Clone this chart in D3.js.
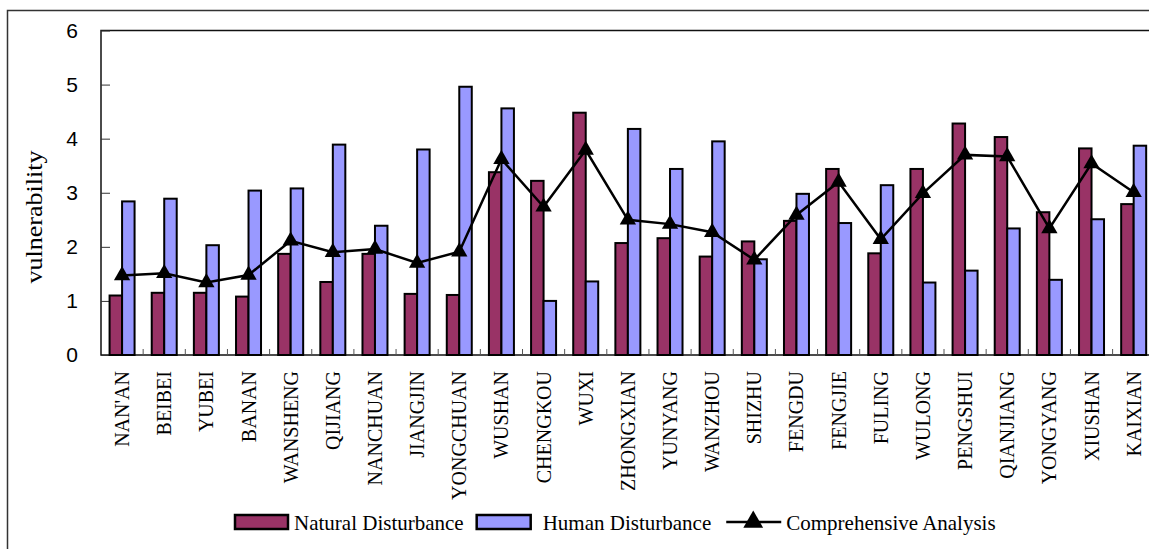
<!DOCTYPE html>
<html>
<head>
<meta charset="utf-8">
<script src="https://cdn.jsdelivr.net/npm/d3@7"></script>
<style>
  body { margin: 0; background: #fff; }
  svg { display: block; }
</style>
</head>
<body>
<svg></svg>
<script>
var width = 1149;
var height = 549;

// data
var counties = ["NAN'AN", "BEIBEI", "YUBEI", "BANAN", "WANSHENG", "QIJIANG", "NANCHUAN",
  "JIANGJIN", "YONGCHUAN", "WUSHAN", "CHENGKOU", "WUXI", "ZHONGXIAN", "YUNYANG", "WANZHOU",
  "SHIZHU", "FENGDU", "FENGJIE", "FULING", "WULONG", "PENGSHUI", "QIANJIANG", "YONGYANG",
  "XIUSHAN", "KAIXIAN"];
var natural = [1.10, 1.15, 1.15, 1.08, 1.87, 1.35, 1.87, 1.13, 1.11, 3.38, 3.22, 4.48, 2.07,
  2.16, 1.82, 2.10, 2.48, 3.44, 1.88, 3.44, 4.28, 4.03, 2.64, 3.82, 2.79];
var human = [2.84, 2.89, 2.03, 3.04, 3.08, 3.89, 2.39, 3.80, 4.96, 4.56, 1.00, 1.36, 4.18,
  3.44, 3.95, 1.77, 2.98, 2.44, 3.14, 1.34, 1.56, 2.34, 1.39, 2.51, 3.87];
var comprehensive = [1.47, 1.51, 1.34, 1.48, 2.11, 1.90, 1.96, 1.70, 1.91, 3.62, 2.74, 3.79,
  2.50, 2.42, 2.27, 1.76, 2.59, 3.20, 2.14, 2.99, 3.70, 3.67, 2.34, 3.54, 3.01];
var yTicks = [0, 1, 2, 3, 4, 5, 6];
var legendNames = ["Natural Disturbance", "Human Disturbance", "Comprehensive Analysis"];

var natColor = "#993366";
var humColor = "#9999ff";
var serif = "'Liberation Serif', 'Times New Roman', serif";

var plotLeft = 101;
var plotTop = 30.5;
var plotBottom = 355;
var step = 42.15;
var plotRight = plotLeft + step * counties.length;

var svg = d3.select("svg").attr("width", width).attr("height", height);

// outer frame (runs off the right and bottom edges)
svg.append("rect")
  .attr("x", 7.5).attr("y", 10.5)
  .attr("width", 1200).attr("height", 600)
  .attr("fill", "none").attr("stroke", "#333").attr("stroke-width", 1.5);

var x = d3.scaleBand()
  .domain(counties)
  .range([plotLeft, plotRight])
  .paddingInner(0.407)
  .paddingOuter(0.2035);

var xSub = d3.scaleBand()
  .domain(["natural", "human"])
  .range([0, x.bandwidth()]);

var y = d3.scaleLinear().domain([0, 6]).range([plotBottom, plotTop]);

// plot box
svg.append("rect")
  .attr("x", plotLeft).attr("y", plotTop)
  .attr("width", plotRight - plotLeft).attr("height", plotBottom - plotTop)
  .attr("fill", "none").attr("stroke", "#111").attr("stroke-width", 1.5);

// y axis, ticks pointing inward
var yAxis = svg.append("g")
  .attr("transform", "translate(" + plotLeft + ",0)")
  .call(d3.axisLeft(y).tickValues(yTicks).tickFormat(d3.format("d"))
    .tickSizeInner(-9).tickSizeOuter(0).tickPadding(23));
yAxis.select(".domain").remove();
yAxis.selectAll("line").attr("stroke", "#333");
yAxis.selectAll("text")
  .attr("font-family", "'Liberation Sans', Arial, sans-serif")
  .attr("font-size", 21)
  .attr("fill", "#000");

// small inward ticks between categories
svg.append("g").selectAll("line")
  .data(d3.range(1, counties.length))
  .enter().append("line")
  .attr("x1", function(i) { return plotLeft + i * x.step(); })
  .attr("x2", function(i) { return plotLeft + i * x.step(); })
  .attr("y1", plotBottom)
  .attr("y2", plotBottom - 6)
  .attr("stroke", "#555").attr("stroke-width", 1);

// bars
var groups = svg.append("g").selectAll("g")
  .data(counties)
  .enter().append("g")
  .attr("transform", function(d) { return "translate(" + x(d) + ",0)"; });

groups.append("rect")
  .attr("x", xSub("natural"))
  .attr("width", xSub.bandwidth())
  .attr("y", function(d, i) { return y(natural[i]); })
  .attr("height", function(d, i) { return plotBottom - y(natural[i]); })
  .attr("fill", natColor).attr("stroke", "#000").attr("stroke-width", 2);

groups.append("rect")
  .attr("x", xSub("human"))
  .attr("width", xSub.bandwidth())
  .attr("y", function(d, i) { return y(human[i]); })
  .attr("height", function(d, i) { return plotBottom - y(human[i]); })
  .attr("fill", humColor).attr("stroke", "#000").attr("stroke-width", 2);

// comprehensive line
var lineFunction = d3.line()
  .x(function(d, i) { return x(counties[i]) + x.bandwidth() / 2; })
  .y(function(d) { return y(d); });

svg.append("path")
  .datum(comprehensive)
  .attr("d", lineFunction)
  .attr("fill", "none").attr("stroke", "#000").attr("stroke-width", 2.5);

var tri = d3.symbol().type(d3.symbolTriangle).size(115);
svg.append("g").selectAll("path")
  .data(comprehensive)
  .enter().append("path")
  .attr("d", tri)
  .attr("transform", function(d, i) {
    return "translate(" + (x(counties[i]) + x.bandwidth() / 2) + "," + y(d) + ")";
  })
  .attr("fill", "#000");

// x labels, vertical
svg.append("g").selectAll("text")
  .data(counties)
  .enter().append("text")
  .attr("transform", function(d) {
    return "translate(" + (x(d) + x.bandwidth() / 2) + ",371) rotate(-90)";
  })
  .attr("dy", "0.35em")
  .attr("text-anchor", "end")
  .attr("font-family", serif)
  .attr("font-size", 20)
  .attr("fill", "#000")
  .text(function(d) { return d; });

// y title
svg.append("text")
  .attr("transform", "translate(34,217) rotate(-90)")
  .attr("dy", "0.35em")
  .attr("text-anchor", "middle")
  .attr("font-family", serif)
  .attr("font-size", 23)
  .attr("textLength", 133)
  .attr("lengthAdjust", "spacingAndGlyphs")
  .text("vulnerability");

// legend
var legend = svg.append("g");
var lx = 235;
var ly = 522;

function legendText(name, xPos) {
  var t = legend.append("text")
    .attr("x", xPos).attr("y", ly + 8)
    .attr("font-family", serif)
    .attr("font-size", 21)
    .attr("fill", "#000")
    .text(name);
  return xPos + t.node().getComputedTextLength();
}

legend.append("rect")
  .attr("x", lx).attr("y", ly - 7).attr("width", 53).attr("height", 14)
  .attr("fill", natColor).attr("stroke", "#000").attr("stroke-width", 2.5);
lx = legendText(legendNames[0], lx + 59) + 13;

legend.append("rect")
  .attr("x", lx).attr("y", ly - 7).attr("width", 54).attr("height", 14)
  .attr("fill", humColor).attr("stroke", "#000").attr("stroke-width", 2.5);
lx = legendText(legendNames[1], lx + 66) + 15;

legend.append("line")
  .attr("x1", lx).attr("x2", lx + 55).attr("y1", ly).attr("y2", ly)
  .attr("stroke", "#000").attr("stroke-width", 2.5);
legend.append("path")
  .attr("d", d3.symbol().type(d3.symbolTriangle).size(170))
  .attr("transform", "translate(" + (lx + 27) + "," + ly + ")")
  .attr("fill", "#000");
legendText(legendNames[2], lx + 60);
</script>
</body>
</html>
